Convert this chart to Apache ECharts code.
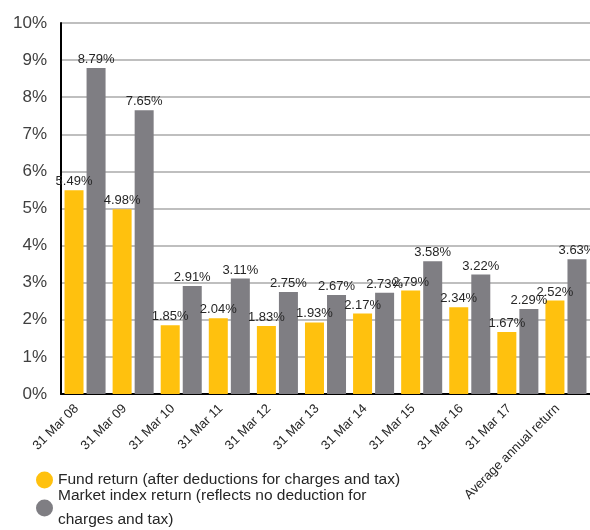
<!DOCTYPE html>
<html><head><meta charset="utf-8">
<script src="https://cdn.jsdelivr.net/npm/echarts@6/dist/echarts.min.js"></script>
<style>html,body{margin:0;padding:0;background:#fff}#c{width:590px;height:530px}</style>
</head><body><div id="c"></div>
<script>
var categories = ['31 Mar 08','31 Mar 09','31 Mar 10','31 Mar 11','31 Mar 12','31 Mar 13','31 Mar 14','31 Mar 15','31 Mar 16','31 Mar 17','Average annual return'];
var fundReturn = [5.49,4.98,1.85,2.04,1.83,1.93,2.17,2.79,2.34,1.67,2.52];
var marketReturn = [8.79,7.65,2.91,3.11,2.75,2.67,2.73,3.58,3.22,2.29,3.63];
var seriesNames = ['Fund return (after deductions for charges and tax)','Market index return (reflects no deduction for charges and tax)'];

var chart = echarts.init(document.getElementById('c'));
var font = 'Liberation Sans, Arial, sans-serif';
var lbl = {show:true, position:'top', distance:2, color:'#262626', fontSize:13, fontFamily:font, formatter:function(p){return p.value.toFixed(2)+'%';}};
var legText = {fontSize:15.5, fontFamily:font, color:'#262626', lineHeight:24};
chart.setOption({
  animation:false,
  grid:{left:61, right:-6, top:23, bottom:136},
  legend:[
    {orient:'vertical', left:31, top:463, icon:'circle', itemWidth:17, itemHeight:17, itemGap:5,
     textStyle:legText, data:[seriesNames[0]]},
    {orient:'vertical', left:31, top:479, height:60, icon:'circle', itemWidth:17, itemHeight:17, itemGap:5,
     textStyle:legText, data:[seriesNames[1]],
     formatter:function(){ return 'Market index return (reflects no deduction for\ncharges and tax)'; }}
  ],
  xAxis:{type:'category', data:categories,
    axisLine:{lineStyle:{color:'#000', width:2}}, axisTick:{show:false},
    axisLabel:{rotate:45, interval:0, fontSize:13, fontFamily:font, color:'#262626', margin:4, padding:[0,12,0,0]}},
  yAxis:{type:'value', min:0, max:10, interval:1,
    axisLine:{show:true, lineStyle:{color:'#000', width:2}}, axisTick:{show:false},
    splitLine:{lineStyle:{color:'#bfbfbf', width:2}},
    axisLabel:{formatter:'{value}%', fontSize:17, fontFamily:font, color:'#404040', margin:14}},
  series:[
    {name:seriesNames[0], type:'bar', data:fundReturn, barWidth:19, barGap:'16%', itemStyle:{color:'#FFC10E'}, label:lbl},
    {name:seriesNames[1], type:'bar', data:marketReturn, barWidth:19, itemStyle:{color:'#7F7E83'}, label:lbl}
  ]
});
</script></body></html>
